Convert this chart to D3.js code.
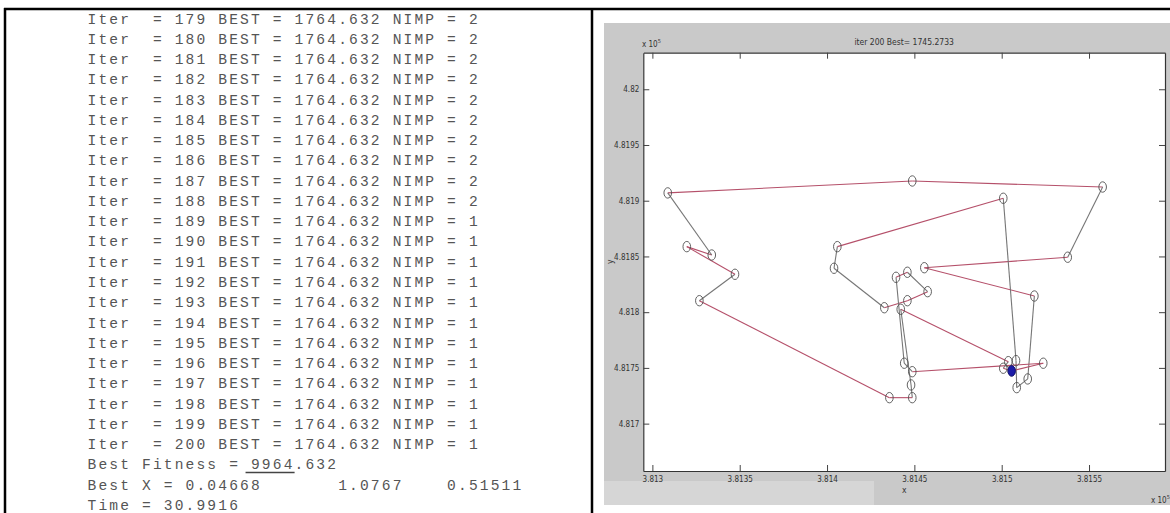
<!DOCTYPE html>
<html><head><meta charset="utf-8">
<script src="https://cdn.jsdelivr.net/npm/d3@7"></script>
<style>
html,body{margin:0;padding:0;background:#fff;}
svg{display:block;}
</style></head>
<body>
<svg id="c" width="1170" height="513"></svg>
<script>
// ---- console output (left panel) ----
const iterNums = [179,180,181,182,183,184,185,186,187,188,189,190,191,192,193,194,195,196,197,198,199,200];
const bestVals = ["1764.632","1764.632","1764.632","1764.632","1764.632","1764.632","1764.632","1764.632","1764.632","1764.632","1764.632","1764.632","1764.632","1764.632","1764.632","1764.632","1764.632","1764.632","1764.632","1764.632","1764.632","1764.632"];
const nimpVals = [2,2,2,2,2,2,2,2,2,2,1,1,1,1,1,1,1,1,1,1,1,1];
const bestFitness = "9964.632";
const bestX = ["0.04668","1.0767","0.51511"];
const timeVal = "30.9916";

// ---- route plot (right panel), tour order, units as plotted (x 10^5) ----
const routeX = [381308.8,381448.8,381557.8,381537.8,381455.7,381518.7,381514.9,381508.6,381508.2,381500.9,381405.9,381404.0,381432.8,381446.0,381457.6,381446.0,381439.5,381444.2,381448.8,381523.8,381505.7,381500.9,381503.8,381442.2,381448.1,381448.8,381435.7,381326.9,381347.3,381319.7,381334.0];
const routeY = [481907.0,481917.7,481912.3,481849.3,481839.9,481814.5,481740.1,481732.3,481756.5,481902.2,481858.8,481839.4,481804.0,481810.3,481818.4,481835.8,481831.3,481754.2,481746.6,481754.2,481747.3,481749.7,481755.6,481802.6,481734.7,481723.3,481723.3,481810.3,481834.0,481858.8,481851.3];
const startX = [381505.7];
const startY = [481747.3];
const xTicks = [381300,381350,381400,381450,381500,381550];
const xTickLabels = ["3.813","3.8135","3.814","3.8145","3.815","3.8155"];
const yTicks = [481700,481750,481800,481850,481900,481950,482000];
const yTickLabels = ["4.817","4.8175","4.818","4.8185","4.819","4.8195","4.82"];
const titleText = "iter 200 Best= 1745.2733";
const xLabel = "x";
const yLabel = "y";
const xDomain = [381294.8, 381593.5];
const yDomain = [481657.5, 482032.8];

const svg = d3.select("#c");

// ---------- left panel ----------
const left = svg.append("g");
const lines = iterNums.map((n,i)=>`Iter  = ${n} BEST = ${bestVals[i]} NIMP = ${nimpVals[i]}`);
lines.push(`Best Fitness = ${bestFitness}`);
lines.push(`Best X = ${bestX[0]}       ${bestX[1]}    ${bestX[2]}`);
lines.push(`Time = ${timeVal}`);
const lineY = d3.scaleLinear().domain([0, lines.length-1]).range([23.5, 510]);
const fs = 14.6, cw = 10.9;
left.selectAll("text.con").data(lines).join("text")
  .attr("class","con")
  .attr("x", 87.5).attr("y", (d,i)=>lineY(i))
  .attr("xml:space","preserve")
  .style("white-space","pre")
  .attr("font-family","'Liberation Mono','Courier New',monospace")
  .attr("font-size", fs)
  .attr("letter-spacing", cw - fs*0.6)
  .attr("fill","#555")
  .text(d=>d);
// underline under "9964"
left.append("line")
  .attr("x1", 87.5+14.5*cw).attr("x2", 87.5+19*cw)
  .attr("y1", lineY(iterNums.length)+3).attr("y2", lineY(iterNums.length)+3)
  .attr("stroke","#444").attr("stroke-width",1.4);

// frame
svg.append("line").attr("x1",4).attr("x2",1170).attr("y1",9).attr("y2",9).attr("stroke","#000").attr("stroke-width",2.5);
svg.append("line").attr("x1",5).attr("x2",5).attr("y1",8).attr("y2",513).attr("stroke","#000").attr("stroke-width",2.5);
svg.append("line").attr("x1",592).attr("x2",592).attr("y1",8).attr("y2",513).attr("stroke","#000").attr("stroke-width",2.5);

// ---------- right panel ----------
svg.append("rect").attr("x",604).attr("y",23).attr("width",566).attr("height",482).attr("fill","#c9c9c9");
svg.append("rect").attr("x",604).attr("y",481).attr("width",270).attr("height",24).attr("fill","#d6d6d6");

const x = d3.scaleLinear().domain(xDomain).range([643.3, 1165]);
const y = d3.scaleLinear().domain(yDomain).range([471, 52.7]);

svg.append("rect").attr("x",x.range()[0]).attr("y",y.range()[1])
  .attr("width",x.range()[1]-x.range()[0]).attr("height",y.range()[0]-y.range()[1])
  .attr("fill","#fff");

const axFont = "'Liberation Sans Narrow','DejaVu Sans Condensed','Liberation Sans',sans-serif";
const tk = 6;
const gB = svg.append("g").attr("transform",`translate(0,${y.range()[0]})`)
  .call(d3.axisBottom(x).tickValues(xTicks).tickFormat((d,i)=>xTickLabels[i]).tickSizeInner(-tk).tickSizeOuter(0).tickPadding(5));
const gT = svg.append("g").attr("transform",`translate(0,${y.range()[1]})`)
  .call(d3.axisTop(x).tickValues(xTicks).tickFormat("").tickSizeInner(-tk).tickSizeOuter(0));
const gL = svg.append("g").attr("transform",`translate(${x.range()[0]},0)`)
  .call(d3.axisLeft(y).tickValues(yTicks).tickFormat((d,i)=>yTickLabels[i]).tickSizeInner(-tk).tickSizeOuter(0).tickPadding(4));
const gR = svg.append("g").attr("transform",`translate(${x.range()[1]},0)`)
  .call(d3.axisRight(y).tickValues(yTicks).tickFormat("").tickSizeInner(-tk).tickSizeOuter(0));
[gB,gT,gL,gR].forEach(g=>{
  g.selectAll("path.domain").attr("stroke","#333").attr("stroke-width",1.2);
  g.selectAll(".tick line").attr("stroke","#444").attr("stroke-width",1);
  g.selectAll(".tick text").attr("font-family",axFont).attr("font-size",8).attr("fill","#333");
});

// route segments
const pts = routeX.map((v,i)=>[x(v), y(routeY[i])]);
const segs = pts.map((p,i)=>[p, pts[(i+1)%pts.length]]);
svg.append("g").selectAll("line").data(segs).join("line")
  .attr("x1",d=>d[0][0]).attr("y1",d=>d[0][1])
  .attr("x2",d=>d[1][0]).attr("y2",d=>d[1][1])
  .attr("stroke",d=>{
    const dx=Math.abs(d[1][0]-d[0][0]), dy=Math.abs(d[1][1]-d[0][1]);
    return (dy < 0.62*dx) ? "#b5506a" : "#767676";
  })
  .attr("stroke-width",1.1);

// markers
svg.append("g").selectAll("ellipse").data(pts).join("ellipse")
  .attr("cx",d=>d[0]).attr("cy",d=>d[1])
  .attr("rx",3.8).attr("ry",5.2)
  .attr("fill","none").attr("stroke","#505050").attr("stroke-width",0.9);
svg.append("g").selectAll("ellipse").data(startX.map((v,i)=>[x(v),y(startY[i])])).join("ellipse")
  .attr("cx",d=>d[0]).attr("cy",d=>d[1])
  .attr("rx",3.6).attr("ry",5.2)
  .attr("fill","#1c1ca8").attr("stroke","#101080");

// title and labels
svg.append("text").attr("x",(x.range()[0]+x.range()[1])/2).attr("y",45)
  .attr("text-anchor","middle").attr("font-family",axFont).attr("font-size",8.5).attr("fill","#333").text(titleText);
svg.append("text").attr("x",(x.range()[0]+x.range()[1])/2).attr("y",493)
  .attr("text-anchor","middle").attr("font-family",axFont).attr("font-size",8.5).attr("fill","#333").text(xLabel);
svg.append("text").attr("transform",`translate(613,${(y.range()[0]+y.range()[1])/2}) rotate(-90)`)
  .attr("text-anchor","middle").attr("font-family",axFont).attr("font-size",8.5).attr("fill","#333").text(yLabel);
function exp10(xp,yp){
  const t = svg.append("text").attr("x",xp).attr("y",yp).attr("font-family",axFont).attr("font-size",8).attr("fill","#333");
  t.append("tspan").text("x 10");
  t.append("tspan").attr("dy",-4).attr("font-size",5.5).text("5");
}
exp10(642,47);
exp10(1151,503);
</script>
</body></html>
